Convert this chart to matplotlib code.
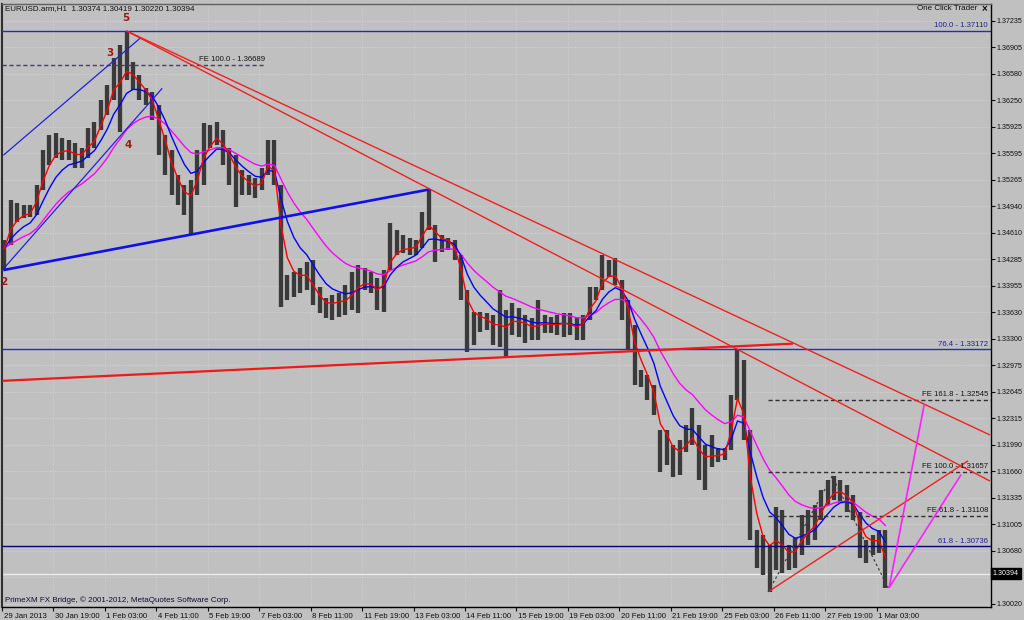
import numpy as np
import pandas as pd
import matplotlib
matplotlib.use('Agg')
import matplotlib.pyplot as plt
from matplotlib.transforms import blended_transform_factory, offset_copy, ScaledTranslation

plt.rcParams['font.family'] = ['Liberation Sans', 'DejaVu Sans']

# ----------------------------- price data (4h bars) -----------------------------
highs = [1.3452, 1.3502, 1.3498, 1.3496, 1.3496, 1.3520, 1.3564, 1.3582, 1.3585, 1.3578,
         1.3576, 1.3572, 1.3566, 1.3591, 1.3598, 1.3625, 1.3644, 1.3677, 1.3693, 1.3711,
         1.3672, 1.3656, 1.3640, 1.3635, 1.3619, 1.3582, 1.3564, 1.3533, 1.3520, 1.3526,
         1.3564, 1.3597, 1.3594, 1.3598, 1.3588, 1.3566, 1.3557, 1.3539, 1.3533, 1.3529,
         1.3541, 1.3576, 1.3576, 1.3520, 1.3409, 1.3413, 1.3418, 1.3425, 1.3427, 1.3394,
         1.3380, 1.3384, 1.3387, 1.3397, 1.3413, 1.3421, 1.3418, 1.3413, 1.3405, 1.3415,
         1.3473, 1.3465, 1.3458, 1.3455, 1.3452, 1.3487, 1.3514, 1.3471, 1.3458, 1.3455,
         1.3452, 1.3434, 1.3390, 1.3363, 1.3363, 1.3362, 1.3359, 1.3390, 1.3366, 1.3374,
         1.3368, 1.3359, 1.3356, 1.3378, 1.3359, 1.3357, 1.3359, 1.3362, 1.3362, 1.3357,
         1.3359, 1.3394, 1.3394, 1.3434, 1.3427, 1.3430, 1.3403, 1.3378, 1.3347, 1.3291,
         1.3285, 1.3273, 1.3217, 1.3217, 1.3199, 1.3205, 1.3223, 1.3244, 1.3223, 1.3199,
         1.3211, 1.3195, 1.3195, 1.3260, 1.3316, 1.3304, 1.3217, 1.3093, 1.3087, 1.3075,
         1.3122, 1.3118, 1.3075, 1.3084, 1.3112, 1.3118, 1.3124, 1.3143, 1.3155, 1.3160,
         1.3155, 1.3149, 1.3137, 1.3116, 1.3081, 1.3087, 1.3093, 1.3093]
lows = [1.3415, 1.3446, 1.3474, 1.3479, 1.3481, 1.3483, 1.3514, 1.3545, 1.3554, 1.3551,
        1.3551, 1.3541, 1.3541, 1.3554, 1.3566, 1.3588, 1.3607, 1.3625, 1.3586, 1.3650,
        1.3638, 1.3625, 1.3619, 1.3601, 1.3557, 1.3533, 1.3508, 1.3496, 1.3483, 1.3458,
        1.3508, 1.3520, 1.3566, 1.3570, 1.3545, 1.3520, 1.3493, 1.3508, 1.3508, 1.3504,
        1.3514, 1.3533, 1.3520, 1.3369, 1.3378, 1.3382, 1.3387, 1.3390, 1.3372, 1.3362,
        1.3356, 1.3353, 1.3357, 1.3359, 1.3366, 1.3362, 1.3390, 1.3387, 1.3366, 1.3363,
        1.3415, 1.3434, 1.3436, 1.3434, 1.3434, 1.3442, 1.3465, 1.3425, 1.3437, 1.3440,
        1.3427, 1.3378, 1.3314, 1.3322, 1.3338, 1.3341, 1.3322, 1.3320, 1.3307, 1.3335,
        1.3332, 1.3325, 1.3329, 1.3329, 1.3337, 1.3337, 1.3335, 1.3332, 1.3335, 1.3329,
        1.3329, 1.3353, 1.3378, 1.3390, 1.3406, 1.3397, 1.3353, 1.3316, 1.3273, 1.3270,
        1.3254, 1.3236, 1.3165, 1.3174, 1.3159, 1.3162, 1.3190, 1.3199, 1.3155, 1.3143,
        1.3171, 1.3178, 1.3180, 1.3192, 1.3254, 1.3205, 1.3081, 1.3046, 1.3038, 1.3017,
        1.3044, 1.3040, 1.3044, 1.3046, 1.3063, 1.3075, 1.3081, 1.3106, 1.3124, 1.3131,
        1.3128, 1.3116, 1.3106, 1.3059, 1.3053, 1.3063, 1.3065, 1.3022]
closes = [1.3442, 1.3489, 1.3487, 1.3489, 1.3487, 1.3514, 1.3551, 1.3564, 1.3570, 1.3566,
          1.3564, 1.3554, 1.3557, 1.3576, 1.3582, 1.3613, 1.3632, 1.3663, 1.3656, 1.3675,
          1.3653, 1.3638, 1.3628, 1.3613, 1.3576, 1.3551, 1.3520, 1.3508, 1.3496, 1.3502,
          1.3545, 1.3582, 1.3582, 1.3588, 1.3564, 1.3545, 1.3526, 1.3520, 1.3517, 1.3514,
          1.3526, 1.3564, 1.3533, 1.3403, 1.3390, 1.3397, 1.3403, 1.3409, 1.3384, 1.3372,
          1.3366, 1.3372, 1.3378, 1.3378, 1.3390, 1.3403, 1.3403, 1.3397, 1.3384, 1.3403,
          1.3452, 1.3446, 1.3446, 1.3442, 1.3446, 1.3471, 1.3483, 1.3455, 1.3446, 1.3449,
          1.3434, 1.3390, 1.3341, 1.3347, 1.3353, 1.3351, 1.3341, 1.3347, 1.3341, 1.3359,
          1.3351, 1.3347, 1.3341, 1.3347, 1.3351, 1.3347, 1.3347, 1.3351, 1.3347, 1.3341,
          1.3353, 1.3384, 1.3388, 1.3421, 1.3415, 1.3409, 1.3378, 1.3341, 1.3285, 1.3282,
          1.3267, 1.3242, 1.3186, 1.3199, 1.3180, 1.3186, 1.3205, 1.3217, 1.3180, 1.3174,
          1.3186, 1.3186, 1.3190, 1.3242, 1.3298, 1.3217, 1.3081, 1.3069, 1.3056, 1.3063,
          1.3087, 1.3069, 1.3056, 1.3069, 1.3093, 1.3100, 1.3106, 1.3131, 1.3143, 1.3149,
          1.3143, 1.3131, 1.3118, 1.3075, 1.3069, 1.3075, 1.3081, 1.30394]

last_price = 1.30394

# axis labels
date_labels = ['29 Jan 2013', '30 Jan 19:00', '1 Feb 03:00', '4 Feb 11:00', '5 Feb 19:00',
               '7 Feb 03:00', '8 Feb 11:00', '11 Feb 19:00', '13 Feb 03:00', '14 Feb 11:00',
               '15 Feb 19:00', '19 Feb 03:00', '20 Feb 11:00', '21 Feb 19:00', '25 Feb 03:00',
               '26 Feb 11:00', '27 Feb 19:00', '1 Mar 03:00']
price_ticks = [1.37235, 1.36905, 1.36580, 1.36250, 1.35925, 1.35595, 1.35265, 1.34940,
               1.34610, 1.34285, 1.33955, 1.33630, 1.33300, 1.32975, 1.32645, 1.32315,
               1.31990, 1.31660, 1.31335, 1.31005, 1.30680, 1.30350, 1.30020]

# drawing objects: (hour index, price)
fibo_levels = [(1.37110, '100.0 - 1.37110'), (1.33172, '76.4 - 1.33172'), (1.30736, '61.8 - 1.30736')]
fe_right = [(1.32545, 'FE 161.8 - 1.32545'), (1.31657, 'FE 100.0 - 1.31657'), (1.31108, 'FE 61.8 - 1.31108')]
fe_left = (1.36689, 'FE 100.0 - 1.36689')
blue_trend = [(0.8, 1.3415), (266.4, 1.3515)]
red_trend = [(0.2, 1.3278), (492.0, 1.3324)]
blue_chan_top = [(0.8, 1.3557), (86.0, 1.3702)]
blue_chan_low = [(0.2, 1.3415), (99.7, 1.3640)]
red_fan_up = [(77.3, 1.3711), (614.6, 1.3211)]
red_fan_low = [(77.3, 1.3711), (614.6, 1.3154)]
red_tri = [(476.6, 1.3017), (600.9, 1.3179)]
mag_a = [(551.8, 1.3022), (573.6, 1.3248)]
mag_b = [(551.8, 1.3022), (596.6, 1.3162)]
zigzag = [(476.6, 1.3017), (516.4, 1.3160), (551.2, 1.3022)]
wave_labels = [('5', 77.3, 1.3727), ('3', 67.4, 1.3683), ('4', 78.5, 1.3570), ('2', 0.8, 1.3400)]

# ----------------------------------------------- plot -----------------------------------------------
bg = '#c0c0c0'
fig = plt.figure(figsize=(10.24, 6.2), dpi=100, facecolor=bg)
ax = fig.add_axes([2 / 1024, 13 / 620, 989 / 1024, 603 / 620], facecolor=bg)
ax.set_xlim(0.19, 615.2)
ax.set_ylim(1.29982, 1.37442)

bar_x = np.arange(len(closes)) * 4 + 1.5
date_pos = np.arange(len(date_labels)) * 32

# grid
for p in price_ticks:
    ax.axhline(p, color='#dcdcdc', lw=0.6, ls=(0, (1, 2)), zorder=0)
for d in date_pos[1:]:
    ax.axvline(d, color='#d4d4d4', lw=0.6, ls=(0, (1, 2)), zorder=0)

# bid line
ax.axhline(last_price, color='#ececec', lw=1.0, zorder=1)

# price bars
ax.vlines(bar_x, lows, highs, color='#3a3a3a', lw=3.1, zorder=2)

# moving averages
cl = pd.Series(closes)
ax.plot(bar_x, cl.ewm(span=16, adjust=False).mean(), color='#ff00ff', lw=1.0, zorder=3)
ax.plot(bar_x, cl.ewm(span=7, adjust=False).mean(), color='#0000ff', lw=1.0, zorder=3)
ax.plot(bar_x, cl.ewm(span=3, adjust=False).mean(), color='#ff0000', lw=1.0, zorder=3)

# fibo horizontal levels
tr = blended_transform_factory(ax.transAxes, ax.transData)
for lvl, txt in fibo_levels:
    c = '#000080' if lvl < 1.31 else '#2828c8'
    ax.axhline(lvl, color=c, lw=1.0, zorder=4)
    ax.text(0.997, lvl, txt, transform=offset_copy(tr, fig=fig, y=1.5, units='dots'),
            ha='right', va='bottom', fontsize=5.6, color='#202098', zorder=6)

# fibo expansion levels
for lvl, txt in fe_right:
    ax.plot([476.6, 616], [lvl, lvl], color='#303038', lw=1.0, ls=(0, (3, 2)), zorder=4)
    ax.text(0.997, lvl, txt, transform=offset_copy(tr, fig=fig, y=1.5, units='dots'),
            ha='right', va='bottom', fontsize=5.6, color='#151515', zorder=6)
ax.plot([0.19, 163.7], [fe_left[0]] * 2, color='#4a3f5a', lw=1.0, ls=(0, (3, 2)), zorder=4)
ax.text(163.7, fe_left[0], fe_left[1],
        transform=offset_copy(ax.transData, fig=fig, y=1.5, units='dots'),
        ha='right', va='bottom', fontsize=5.6, color='#151515', zorder=6)


def seg(pts, **kw):
    xs, ys = zip(*pts)
    ax.plot(xs, ys, solid_capstyle='butt', **kw)


seg(blue_trend, color='#1010e8', lw=1.9, zorder=5)
seg(red_trend, color='#f01818', lw=1.6, zorder=5)
seg(blue_chan_top, color='#2020e0', lw=0.9, zorder=5)
seg(blue_chan_low, color='#2020e0', lw=0.9, zorder=5)
seg(red_fan_up, color='#f02020', lw=1.0, zorder=5)
seg(red_fan_low, color='#f02020', lw=1.0, zorder=5)
seg(red_tri, color='#f02020', lw=1.0, zorder=5)
seg(mag_a, color='#ff20ff', lw=1.2, zorder=5)
seg(mag_b, color='#ff20ff', lw=1.2, zorder=5)
seg(zigzag, color='#404040', lw=0.9, ls=(0, (2, 2)), zorder=5)

for t, x, y in wave_labels:
    ax.text(x, y, t, ha='center', va='center', fontsize=7.5, fontweight='bold',
            color='#a01818', family='DejaVu Sans', zorder=6)

# axes styling
ax.yaxis.tick_right()
ax.set_yticks(price_ticks)
# the 1.30350 label sits under the current price box
ax.set_yticklabels(['' if p == 1.30350 else '%.5f' % p for p in price_ticks])
ax.set_xticks(date_pos)
ax.set_xticklabels(date_labels, ha='left')
ax.tick_params(axis='y', length=3, width=0.8, pad=1.2, labelsize=5.1, colors='#101010')
ax.tick_params(axis='x', length=3, width=0.8, pad=1.5, labelsize=5.6, colors='#101010')
for lab in ax.get_xticklabels():
    lab.set_transform(lab.get_transform() + ScaledTranslation(1.5 / 100, 0, fig.dpi_scale_trans))
for s in ['right', 'bottom']:
    ax.spines[s].set_color('#000000')
    ax.spines[s].set_linewidth(1.0)
ax.spines['left'].set_color('#303030')
ax.spines['left'].set_linewidth(1.5)
ax.spines['top'].set_color('#606060')
ax.spines['top'].set_linewidth(1.0)

# current price box
ax.text(1.002, last_price, '%.5f' % last_price, transform=tr, ha='left', va='center',
        fontsize=5.1, color='white', zorder=7, clip_on=False,
        bbox=dict(boxstyle='square,pad=0.25', facecolor='black', edgecolor='black'))

# header / footer texts
fig.text(5 / 1024, 1 - 9 / 620, 'EURUSD.arm,H1  1.30374 1.30419 1.30220 1.30394',
         ha='left', va='center', fontsize=5.8, color='#101010')
fig.text(977 / 1024, 1 - 9 / 620, 'One Click Trader', ha='right', va='center',
         fontsize=5.8, color='#101010')
fig.text(984 / 1024, 1 - 9 / 620, '×', ha='center', va='center', fontsize=7,
         fontweight='bold', color='#101010')
fig.text(5 / 1024, 1 - 600 / 620, 'PrimeXM FX Bridge, © 2001-2012, MetaQuotes Software Corp.',
         ha='left', va='center', fontsize=5.8, color='#101030')

fig.savefig('out.png', dpi=100, facecolor=bg)
